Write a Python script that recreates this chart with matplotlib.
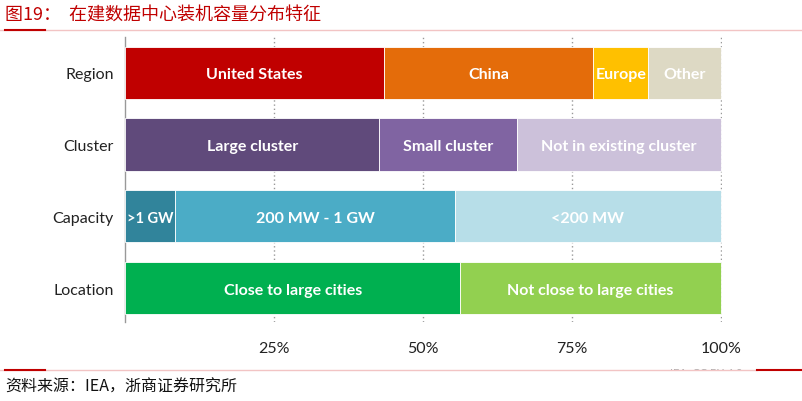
"""在建数据中心装机容量分布特征 - stacked 100% bars"""

from matplotlib import pyplot as plt
from matplotlib.lines import Line2D

plt.rcParams['font.family'] = ['Lato', 'DejaVu Sans']

rows = ['Region', 'Cluster', 'Capacity', 'Location']
# shares in %
region_vals = [43.4, 35.2, 9.2, 12.2]
region_labels = ['United States', 'China', 'Europe', 'Other']
cluster_vals = [42.7, 23.1, 34.2]
cluster_labels = ['Large cluster', 'Small cluster', 'Not in existing cluster']
capacity_vals = [8.4, 47.0, 44.6]
capacity_labels = ['>1 GW', '200 MW - 1 GW', '<200 MW']
location_vals = [56.3, 43.7]
location_labels = ['Close to large cities', 'Not close to large cities']

region_colors = ['#C00000', '#E46C0A', '#FFC000', '#DDD9C4']
cluster_colors = ['#604A7B', '#8064A2', '#CCC1DA']
capacity_colors = ['#31849B', '#4BACC6', '#B7DEE8']
location_colors = ['#00B050', '#92D050']

xticks = [25, 50, 75, 100]

series = [
    (region_vals, region_labels, region_colors),
    (cluster_vals, cluster_labels, cluster_colors),
    (capacity_vals, capacity_labels, capacity_colors),
    (location_vals, location_labels, location_colors),
]

fig = plt.figure(figsize=(8.02, 4.02), dpi=100)
ax = fig.add_axes([0.1559, 0.197, 0.7444, 0.709])

for i, (vals, labels, colors) in enumerate(series):
    y = len(rows) - 1 - i
    left = 0
    for v, lab, c in zip(vals, labels, colors):
        ax.barh(y, v, left=left, height=0.725, color=c, edgecolor='white', linewidth=0.6, zorder=3)
        fs = 11.5 if v > 9 else 10.5
        ax.text(left + v / 2, y, lab, ha='center', va='center_baseline', color='white',
                fontsize=fs, fontweight='bold', zorder=4)
        left += v

ax.set_xlim(0, 100.2)
ax.set_ylim(-0.47, 3.5)
ax.set_yticks(range(len(rows)))
ax.set_yticklabels(rows[::-1], fontsize=11.5, color='#222222')
ax.set_xticks(xticks)
ax.set_xticklabels(['%d%%' % t for t in xticks], fontsize=11.5, color='#222222')
ax.tick_params(axis='both', length=0)
ax.tick_params(axis='x', pad=14)
ax.tick_params(axis='y', pad=8)
ax.xaxis.grid(True, linestyle=(0, (1, 2)), color='#999999', linewidth=1.0, zorder=0)
for s in ['top', 'right', 'bottom']:
    ax.spines[s].set_visible(False)
ax.spines['left'].set_color('#999999')
ax.spines['left'].set_linewidth(1.0)

# title and source
fig.text(0.006, 0.962, '图19：  在建数据中心装机容量分布特征', color='#C00000', fontsize=13,
         family=['Noto Sans CJK SC', 'DejaVu Sans'], va='center')
fig.add_artist(Line2D([0.0, 1.0], [0.923, 0.923], color='#F2C4C4', linewidth=1.0))
fig.add_artist(Line2D([0.006, 0.056], [0.923, 0.923], color='#C00000', linewidth=1.5))

fig.text(0.835, 0.072, 'IEA. CC BY 4.0', color='#AAAAAA', fontsize=8, va='center')
fig.patches.append(plt.Rectangle((0.8, 0.06), 0.2, 0.017, transform=fig.transFigure,
                                 facecolor='white', edgecolor='none', zorder=5))
fig.add_artist(Line2D([0.0, 0.944], [0.077, 0.077], color='#F2C4C4', linewidth=1.0, zorder=6))
fig.add_artist(Line2D([0.006, 0.056], [0.077, 0.077], color='#C00000', linewidth=1.5, zorder=6))
fig.add_artist(Line2D([0.944, 1.0], [0.077, 0.077], color='#C00000', linewidth=1.5, zorder=6))

fig.text(0.006, 0.037, '资料来源：IEA，浙商证券研究所', color='#111111', fontsize=11.5,
         family=['Noto Sans CJK SC', 'DejaVu Sans'], va='center')

plt.savefig('out.png', dpi=100)
